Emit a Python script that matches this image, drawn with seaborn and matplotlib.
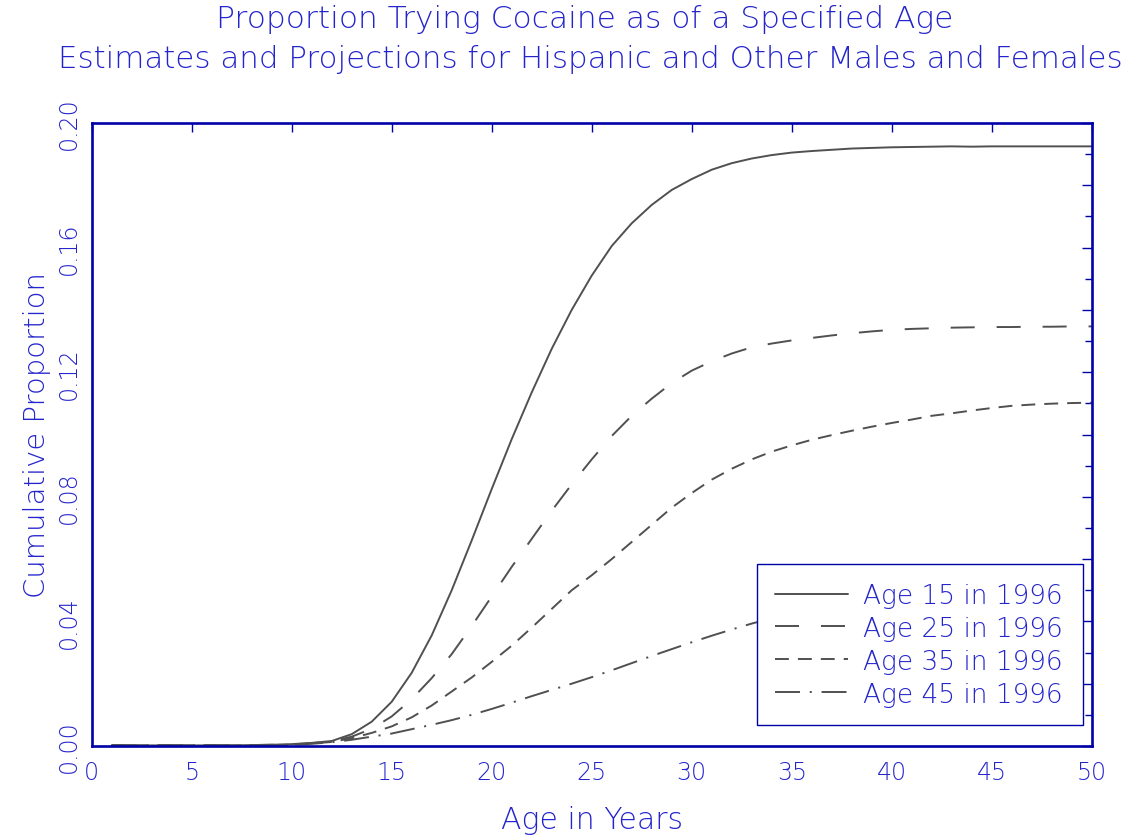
import numpy as np
import pandas as pd
import matplotlib
matplotlib.use("Agg")
import matplotlib.pyplot as plt
from matplotlib.ticker import MultipleLocator, FuncFormatter
import seaborn as sns

# ---------------- data ----------------
ages = list(range(1, 51))
age15 = [0.0002]*7 + [0.0003, 0.0004, 0.0006, 0.0010, 0.0016, 0.0038, 0.0078, 0.0142,
         0.0235, 0.0355, 0.0500, 0.0660, 0.0825, 0.0985, 0.1135, 0.1275, 0.1400, 0.1510,
         0.1605, 0.1678, 0.1737, 0.1785, 0.1820, 0.1850, 0.1871, 0.1886, 0.1897, 0.1905,
         0.1910, 0.1914, 0.1918, 0.1920, 0.1922, 0.1923, 0.1924, 0.1925, 0.1924, 0.1925,
         0.1925, 0.1925, 0.1925, 0.1925, 0.1925]
age25 = [0.0002]*7 + [0.0003, 0.0004, 0.0005, 0.0009, 0.0015, 0.0030, 0.0055, 0.0095,
         0.0150, 0.0218, 0.0295, 0.0385, 0.0480, 0.0575, 0.0665, 0.0755, 0.0840, 0.0920,
         0.0995, 0.1060, 0.1115, 0.1165, 0.1205, 0.1235, 0.1260, 0.1280, 0.1292, 0.1302,
         0.1310, 0.1318, 0.1325, 0.1331, 0.1336, 0.1339, 0.1341, 0.1343, 0.1344, 0.1345,
         0.1345, 0.1346, 0.1346, 0.1347, 0.1347]
age35 = [0.0002]*8 + [0.0003, 0.0004, 0.0008, 0.0013, 0.0025, 0.0042, 0.0063,
         0.0092, 0.0130, 0.0175, 0.0220, 0.0270, 0.0322, 0.0380, 0.0440, 0.0500, 0.0548,
         0.0600, 0.0655, 0.0710, 0.0765, 0.0812, 0.0855, 0.0890, 0.0920, 0.0945, 0.0965,
         0.0983, 0.0998, 0.1012, 0.1025, 0.1037, 0.1048, 0.1060, 0.1068, 0.1077, 0.1085,
         0.1092, 0.1096, 0.1099, 0.1101, 0.1102]
age45 = [0.0002]*8 + [0.0003, 0.0004, 0.0007, 0.0012, 0.0020, 0.0030, 0.0040,
         0.0054, 0.0068, 0.0083, 0.0100, 0.0119, 0.0139, 0.0160, 0.0180, 0.0200, 0.0221,
         0.0243, 0.0266, 0.0289, 0.0311, 0.0333, 0.0354, 0.0374, 0.0393, 0.0410, 0.0425,
         0.0440, 0.0455, 0.0468, 0.0480, 0.0491, 0.0500, 0.0508, 0.0515, 0.0521, 0.0526]
labels = ["Age 15 in 1996", "Age 25 in 1996", "Age 35 in 1996", "Age 45 in 1996"]
series = [age15, age25, age35, age45]

xticks = list(range(0, 51, 5))
title1 = "Proportion Trying Cocaine as of a Specified Age"
title2 = "Estimates and Projections for Hispanic and Other Males and Females"
xlabel = "Age in Years"
ylabel = "Cumulative Proportion"

rows = []
for lab, vals in zip(labels, series):
    for a, v in zip(ages, vals):
        rows.append({"age": a, "prop": v, "cohort": lab})
df = pd.DataFrame(rows)

# ---------------- style ----------------
sns.set_theme(style="white")
plt.rcParams["font.family"] = ["DejaVu Sans"]
plt.rcParams["font.weight"] = "light"
plt.rcParams["lines.scale_dashes"] = False

BLUE_TXT = "#2424cc"
BLUE_AX = "#0000a8"
GREY = "#505050"

fig = plt.figure(figsize=(11.28, 8.37), dpi=100)
ax = fig.add_axes([91.7/1128, 1-747/837, 1000/1128, 623/837])

dashes = {
    labels[0]: "",
    labels[1]: (17.3, 15.8),
    labels[2]: (10.0, 6.5),
    labels[3]: (18.0, 7.0, 1.5, 7.0),
}
sns.lineplot(data=df, x="age", y="prop", hue="cohort", style="cohort",
             palette=[GREY]*4, dashes=dashes, hue_order=labels, style_order=labels,
             linewidth=1.4, legend=False, ax=ax)

ax.set_xlim(0, 50)
ax.set_ylim(0, 0.2)

for sp in ax.spines.values():
    sp.set_color(BLUE_AX)
    sp.set_linewidth(1.9)
    sp.set_visible(True)

ax.set_xticks(xticks)
ax.xaxis.set_major_formatter(FuncFormatter(lambda v, p: f"{int(round(v))}"))
ax.yaxis.set_major_locator(MultipleLocator(0.02))
ax.yaxis.set_minor_locator(MultipleLocator(0.01))

def yfmt(v, p):
    k = int(round(v / 0.02))
    return f"{v:.2f}" if k % 2 == 0 else ""
ax.yaxis.set_major_formatter(FuncFormatter(yfmt))

ax.tick_params(axis="both", which="both", direction="in", color=BLUE_AX,
               top=True, right=True, labelcolor=BLUE_TXT, width=1.0)
ax.tick_params(axis="x", which="major", length=6.5, pad=10, labelsize=17)
ax.tick_params(axis="y", which="major", length=7, pad=8, labelsize=17, labelrotation=90)
ax.tick_params(axis="y", which="minor", length=5)
for t in ax.get_yticklabels():
    t.set_verticalalignment("center")

ax.set_xlabel(xlabel, fontsize=21.5, color=BLUE_TXT, fontweight="light")
ax.set_ylabel(ylabel, fontsize=21, color=BLUE_TXT, fontweight="light")
ax.xaxis.set_label_coords(0.5, (747-821)/623)
ax.xaxis.label.set_verticalalignment("center")
ax.yaxis.set_label_coords((37-91.7)/1000, 0.5)
ax.yaxis.label.set_verticalalignment("center")

fig.text(585/1128, 1-20/837, title1, ha="center", va="center", fontsize=22.5, color=BLUE_TXT)
fig.text(590/1128, 1-59/837, title2, ha="center", va="center", fontsize=22.2, color=BLUE_TXT)

leg = ax.legend(handles=ax.lines[:4], labels=labels, loc="lower left",
                bbox_to_anchor=((757-91.7)/1000, (747-726)/623, 326/1000, 0.27),
                mode="expand", borderaxespad=0, fontsize=19, labelcolor=BLUE_TXT,
                handlelength=2.75, handletextpad=0.55, labelspacing=0.3, borderpad=0.7,
                frameon=True, fancybox=False, framealpha=1, facecolor="white",
                edgecolor=BLUE_AX)
leg.get_frame().set_linewidth(1.0)

fig.savefig("out.png", dpi=100)
